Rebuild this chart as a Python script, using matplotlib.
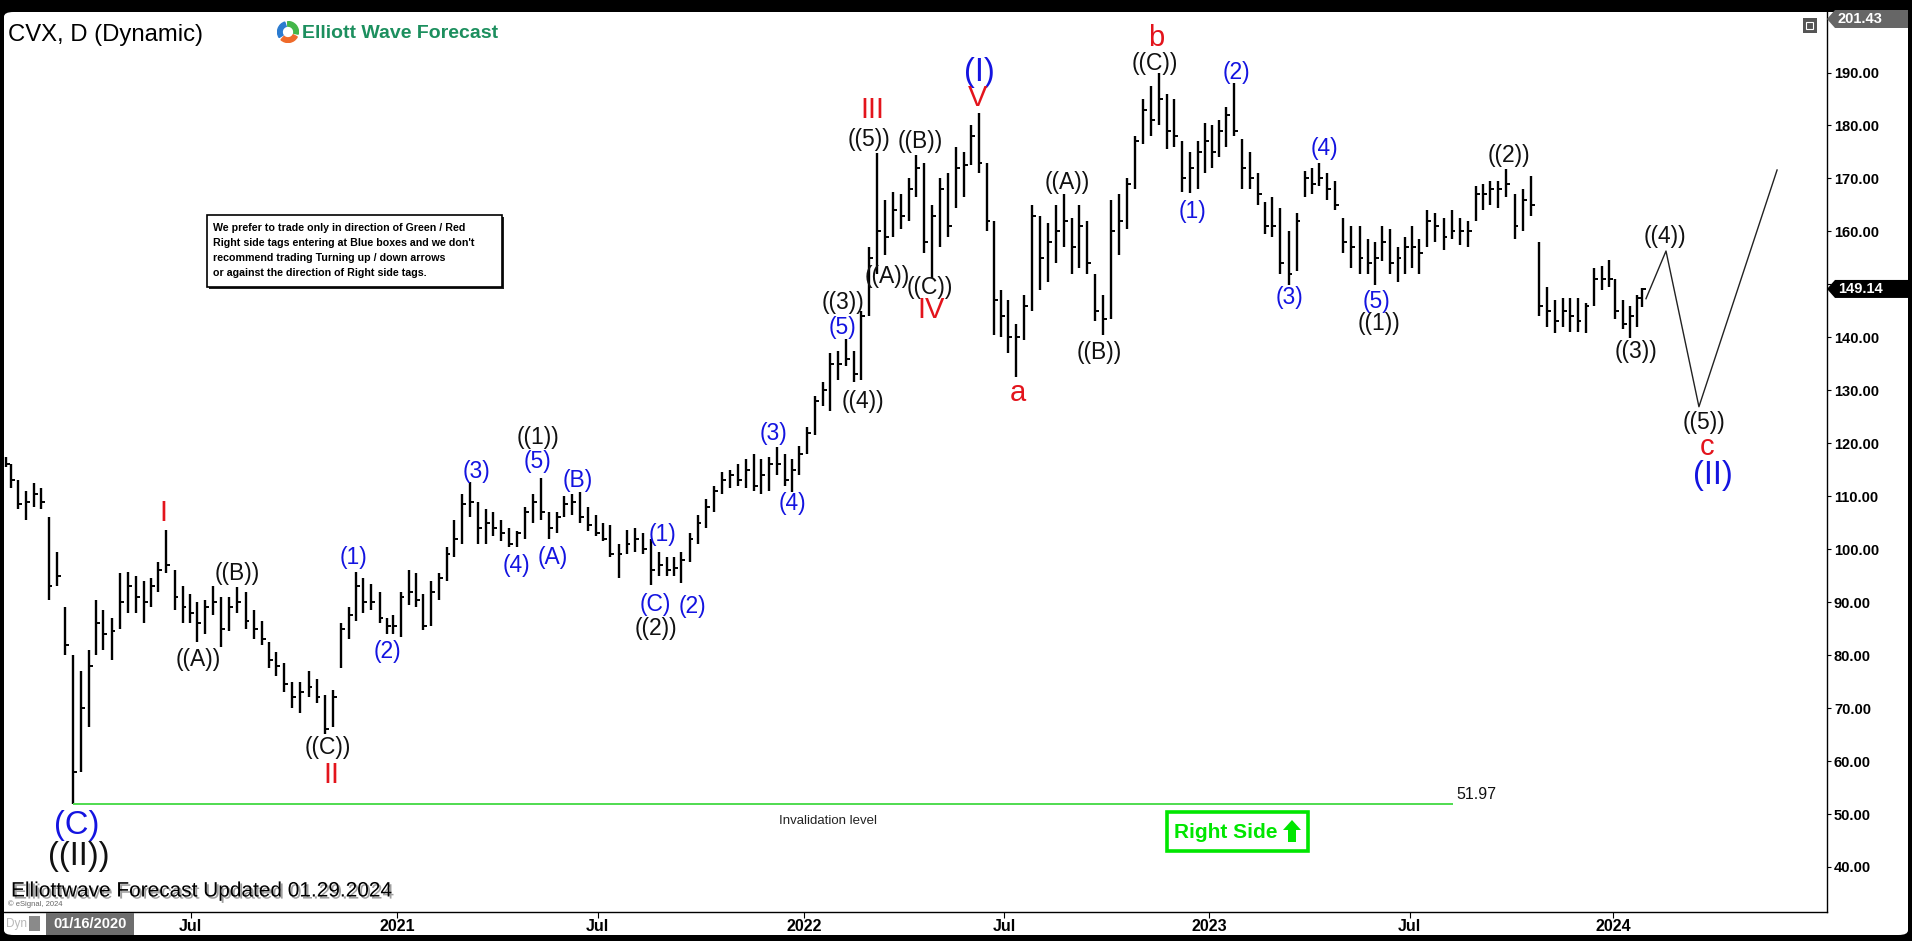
import numpy as np
import pandas as pd
import matplotlib
matplotlib.use('Agg')
import matplotlib.pyplot as plt
import matplotlib.patheffects as pe
from matplotlib.patches import Rectangle, Polygon, FancyBboxPatch, Wedge
from pandas.tseries.holiday import (AbstractHolidayCalendar, Holiday, GoodFriday,
                                    USMartinLutherKingJr, USPresidentsDay, USMemorialDay,
                                    USLaborDay, USThanksgivingDay, nearest_workday,
                                    sunday_to_monday)

W, H = 1912, 941

# CVX weekly bars (one value per week, 16 Jan 2020 .. 29 Jan 2024)
week_low = [
    115.5, 111.5, 107.5, 105.5, 108, 107.5, 90.4, 93, 80, 51.97,
    58, 66.5, 80, 81, 79, 85, 88, 88, 86, 89,
    92, 95.5, 88.5, 86, 86, 82.5, 84, 87.5, 81.5, 84.5,
    88, 85, 83, 82, 77.5, 76, 73, 70, 69, 72,
    71, 65.2, 66.5, 77.5, 83, 86.5, 88, 88.5, 86, 84,
    84, 83.4, 89.5, 89, 84.8, 85.5, 90.5, 94, 98.5, 101,
    106, 101, 101, 102.5, 101.5, 100.4, 100.4, 102, 105, 105.5,
    102, 103, 106, 106.5, 105, 103.5, 102.5, 101.5, 98.5, 94.6,
    99, 99.5, 99, 93.3, 95, 95, 95, 93.6, 97.5, 101,
    104, 107, 110.5, 111.5, 112, 111.5, 111, 110.5, 111, 114,
    112, 110.8, 114, 118, 121.5, 127, 126, 132, 134.5, 131.6,
    132, 144, 152, 155.5, 159, 160.5, 162, 166.5, 156, 151.2,
    157, 159, 164.5, 166.5, 172.5, 171, 160, 140.5, 140, 137,
    132.5, 139.5, 145, 149, 150.5, 154, 157, 152, 153, 152,
    143, 140.5, 143.5, 155.5, 160.5, 168, 176.5, 178, 180, 175.5,
    176, 167.5, 167.3, 168, 171, 172, 174, 176, 178, 168,
    168, 165, 159.5, 159, 152, 149.9, 152.5, 166.5, 167, 168.5,
    166, 164, 156, 153, 152, 152, 149.9, 154.5, 152, 150.5,
    152, 153, 152, 157, 158, 156.5, 158.5, 157.5, 157, 162,
    164, 165, 164.5, 166.5, 158.5, 160, 163, 144, 142, 140.8,
    142, 141, 141, 140.8, 146, 149, 149.5, 143.5, 141.5, 139.8,
    142, 145.8]
week_high = [
    117.5, 116, 113, 111, 112.5, 111.5, 106, 99.5, 89, 80,
    77, 81, 90.5, 88.5, 87, 95.5, 95.7, 95, 94, 94.5,
    97.5, 103.6, 96, 93, 91.5, 90, 90.5, 93, 91, 91,
    92.9, 92, 88.5, 86.5, 82.5, 80.5, 78.5, 75, 75, 77,
    75.5, 72.5, 73.5, 86, 89, 95.7, 94.5, 93.5, 92, 87,
    87.5, 92, 96, 95.5, 91.5, 94, 95.5, 100.5, 105.5, 110.5,
    112.7, 109, 107.5, 107, 105.5, 104, 103.5, 108, 110.5, 113.5,
    107, 107, 110, 110.5, 110.8, 108, 106.5, 105, 104.5, 101,
    103.6, 104, 103, 102, 99.5, 98.5, 98.5, 99.5, 103, 106.5,
    109.5, 112, 114.5, 115, 116, 117, 118, 117, 117.5, 119.3,
    118, 117, 119.5, 123, 129, 131.5, 137, 137.5, 139.6, 137.5,
    145, 157, 174.8, 166, 167.5, 167, 170, 174.5, 173, 165,
    170, 171, 176, 175, 180, 182.4, 173, 162, 149, 147,
    142.5, 148, 165, 163, 161.5, 165, 167, 162.5, 165, 162,
    152, 148, 166, 167, 170, 178, 185, 187.5, 189.9, 186,
    185, 177, 175, 177, 180.5, 180, 181, 183.5, 188, 177.5,
    175, 171, 165.5, 166.5, 164.5, 160, 163.5, 171.5, 172, 173,
    171, 169.5, 162.5, 161, 161, 158.5, 158, 161, 160.5, 157,
    159, 161, 158.5, 164, 163.5, 162.5, 164, 162.5, 162, 168.5,
    169, 169.5, 169.5, 171.8, 167, 168, 170.4, 158, 149.5, 147,
    147.5, 147.5, 147.5, 146.5, 153, 153.5, 154.6, 151, 147, 146,
    148, 149.3]
week_close = [
    116, 113, 108.5, 109, 110.5, 109, 93, 95, 82, 58,
    70, 78, 86, 84, 84.5, 90, 93, 91, 90, 93,
    96, 97, 91, 89, 88, 86, 89, 90, 85, 89,
    90, 86.5, 85, 83, 79, 78, 74.5, 72, 73, 74,
    72, 66, 72, 85, 87.5, 93, 90, 90, 87, 85.5,
    85.5, 91, 92, 90.5, 85.5, 92, 94.5, 99, 102, 108.5,
    109, 104, 105, 104, 103, 101, 103, 107, 109, 107,
    104, 106, 108.5, 109, 106, 104.5, 103, 102, 99, 99,
    101, 102, 100, 96, 97, 96, 96.5, 98, 102, 105,
    108, 111, 113, 114, 113, 115, 112, 114, 116, 116,
    113, 115, 118, 122, 128, 130, 135, 135, 136, 133,
    144, 155, 160, 159, 164, 163, 168, 172, 158, 163,
    168, 161, 172, 172.5, 178, 173, 162, 147, 144, 140,
    140, 146, 163, 155, 158, 160, 162, 157, 161, 154,
    145, 143.5, 160, 162, 169, 177, 183, 181, 185, 179,
    178, 170, 172, 175, 177, 175, 179, 182, 179, 172,
    170, 167, 161, 161, 154, 152, 162, 170, 169, 170,
    168, 165, 158, 157, 155, 154, 155, 158, 154, 155,
    157, 157, 156, 162, 161, 159, 160, 160, 160, 167,
    167, 168, 168, 169, 161, 166, 165, 146, 145, 143,
    145, 144, 143, 146, 151, 151, 151, 145, 142.5, 144,
    147.5, 149.14]

last_price = 149.14
top_price = 201.43
invalid_level = 51.97
invalid_end = '2023-08-10'
y_ticks = list(range(40, 200, 10))

# projected path after the last bar (bar index, price)
proj_x = [1016.4, 1028.8, 1049.2, 1097.6]
proj_y = [147.3, 156.3, 126.9, 171.6]

# wave labels: text, bar index, price, style
wave_labels = [
    ('I', 98, 106.9, 'red'), ('((A))', 120, 79.1, 'blk'), ('((B))', 144, 95.5, 'blk'),
    ('((C))', 200, 62.5, 'blk'), ('II', 202, 57.4, 'red'),
    ('(C)', 44.6, 47.9, 'BLU'), ('((II))', 45.8, 41.9, 'BLK'),
    ('(1)', 216, 98.4, 'blu'), ('(2)', 237, 80.6, 'blu'), ('(3)', 292, 114.6, 'blu'),
    ('(4)', 317, 97.0, 'blu'), ('(5)', 330, 116.5, 'blu'), ('((1))', 330, 121.0, 'blk'),
    ('(A)', 339, 98.5, 'blu'), ('(B)', 355, 112.9, 'blu'), ('(1)', 407, 102.7, 'blu'),
    ('(C)', 402.6, 89.5, 'blu'), ('(2)', 425.5, 89.1, 'blu'), ('((2))', 403.2, 85.1, 'blk'),
    ('(3)', 475.7, 121.8, 'blu'), ('(4)', 487.5, 108.6, 'blu'),
    ('((3))', 519, 146.5, 'blk'), ('(5)', 519, 141.8, 'blu'), ('((4))', 531.4, 127.8, 'blk'),
    ('III', 537, 183.0, 'red'), ('((5))', 535.1, 177.3, 'blk'), ('((B))', 566.7, 176.9, 'blk'),
    ('((A))', 546.3, 151.4, 'blk'), ('((C))', 572.9, 149.5, 'blk'), ('IV', 573.6, 145.2, 'red'),
    ('(I)', 603.3, 190.1, 'BLU'), ('V', 602.7, 185.2, 'red'), ('a', 627.4, 129.5, 'red'),
    ('((A))', 657.8, 169.2, 'blk'), ('((B))', 677.6, 137.1, 'blk'),
    ('b', 712.9, 196.6, 'red'), ('((C))', 712.3, 191.8, 'blk'),
    ('(1)', 735.8, 163.7, 'blu'), ('(2)', 762.5, 190.0, 'blu'), ('(3)', 795.3, 147.5, 'blu'),
    ('(4)', 817, 175.6, 'blu'), ('(5)', 849.2, 146.7, 'blu'), ('((1))', 851, 142.7, 'blk'),
    ('((2))', 931.6, 174.3, 'blk'), ('((3))', 1010.2, 137.3, 'blk'),
    ('((4))', 1028.2, 159.0, 'blk'), ('((5))', 1052.3, 123.9, 'blk'),
    ('c', 1054.2, 119.3, 'red'), ('(II)', 1057.9, 114.0, 'BLU'),
]

BLUE = '#1414e0'
RED = '#e3141c'
GREEN = '#00e600'
styles = {
    'blk': dict(color='#111111', fontsize=16.5),
    'blu': dict(color=BLUE, fontsize=16.5),
    'red': dict(color=RED, fontsize=21),
    'BLU': dict(color=BLUE, fontsize=23.5),
    'BLK': dict(color='#111111', fontsize=23.5),
}

plt.rcParams['font.family'] = ['Liberation Sans', 'DejaVu Sans']


class NyseCalendar(AbstractHolidayCalendar):
    rules = [
        Holiday('NewYear', month=1, day=1, observance=sunday_to_monday),
        USMartinLutherKingJr, USPresidentsDay, GoodFriday, USMemorialDay,
        Holiday('Juneteenth', month=6, day=19, start_date='2022-01-01', observance=nearest_workday),
        Holiday('July4', month=7, day=4, observance=nearest_workday),
        USLaborDay, USThanksgivingDay,
        Holiday('Christmas', month=12, day=25, observance=nearest_workday),
    ]


days = pd.date_range('2020-01-16', '2024-01-29',
                     freq=pd.offsets.CustomBusinessDay(calendar=NyseCalendar()))
bar_idx = pd.Series(np.arange(len(days)), index=days)
week_x = bar_idx.groupby(days.to_period('W-FRI')).mean().values
n = min(len(week_x), len(week_low))
week_x = week_x[:n]

# month ticks at first trading day of January / July
first = np.r_[True, days.month[1:] != days.month[:-1]]
tick_pos, tick_lbl = [], []
for i in np.where(first)[0]:
    if i > 0 and days[i].month in (1, 7):
        tick_pos.append(i)
        tick_lbl.append('Jul' if days[i].month == 7 else str(days[i].year))


def fx(px):
    return px / W


def fy(py):
    return 1 - py / H


fig = plt.figure(figsize=(W / 100, H / 100), dpi=100, facecolor='black')
panel = FancyBboxPatch((fx(4), fy(935)), 1904 / W, (935 - 12) / H,
                       boxstyle='round,pad=0,rounding_size=0.005',
                       transform=fig.transFigure, facecolor='white',
                       edgecolor='none', zorder=-5)
fig.patches.append(panel)

px_per_bar = 1.6145
ax = fig.add_axes([fx(4), fy(912), 1823 / W, 900 / H])
ax.set_facecolor('none')
x0 = -0.62
ax.set_xlim(x0, x0 + 1823 / px_per_bar)
ax.set_ylim(31.5, top_price)

# price bars
ax.vlines(week_x, week_low[:n], week_high[:n], color='black', linewidth=1.7)
ax.hlines(week_close[:n], week_x, week_x + 2.4, color='black', linewidth=1.4)

# invalidation line
end_i = bar_idx.index.searchsorted(pd.Timestamp(invalid_end))
ax.hlines(invalid_level, week_x[int(np.argmin(week_low))], end_i,
          color='#4fdc4f', linewidth=1.4)
ax.text(end_i + 2, invalid_level + 0.3, f'{invalid_level:.2f}', fontsize=11.5,
        color='#111111', ha='left', va='bottom')
ax.text(510, 48.7, 'Invalidation level', fontsize=9.5, color='#222222',
        ha='center', va='center')

# projection
ax.plot(proj_x, proj_y, color='#222222', linewidth=1.0)

for txt, xi, yi, st in wave_labels:
    ax.text(xi, yi, txt, ha='center', va='center', clip_on=False, **styles[st])

# axes styling
for s in ('left', 'top'):
    ax.spines[s].set_visible(False)
for s in ('right', 'bottom'):
    ax.spines[s].set_linewidth(1.0)
    ax.spines[s].set_color('black')
ax.yaxis.tick_right()
ax.set_yticks(y_ticks)
ax.set_yticklabels([f'{v:.2f}' for v in y_ticks], fontsize=10.5, fontweight='bold')
ax.tick_params(axis='y', length=3, width=0.8, pad=2, colors='black')
ax.set_xticks(tick_pos)
ax.set_xticklabels(tick_lbl, fontsize=11.5, fontweight='bold')
ax.tick_params(axis='x', length=4, width=0.8, pad=1, colors='black')

# header
fig.text(fx(8), fy(35), 'CVX, D (Dynamic)', fontsize=17.2, color='black',
         ha='left', va='center')
logo = fig.add_axes([fx(277), fy(43), 22 / W, 22 / H])
logo.set_xlim(-1, 1)
logo.set_ylim(-1, 1)
logo.axis('off')
for a1, a2, c in ((100, 220, '#2b7bd0'), (220, 340, '#ef6a2a'), (340, 460, '#43b649')):
    logo.add_patch(Wedge((0, 0), 0.95, a1 + 8, a2 - 8, width=0.42, color=c))
fig.text(fx(302), fy(33), 'Elliott Wave Forecast', fontsize=14, fontweight='bold',
         color='#1c8f5e', ha='left', va='center')

# note box
fig.patches.append(Rectangle((fx(209), fy(289)), 295 / W, 72 / H,
                             transform=fig.transFigure, facecolor='#222222',
                             edgecolor='none', zorder=2))
fig.patches.append(Rectangle((fx(207), fy(287)), 295 / W, 72 / H,
                             transform=fig.transFigure, facecolor='white',
                             edgecolor='black', linewidth=1.2, zorder=2))
note = ['We prefer to trade only in direction of Green / Red',
        "Right side tags entering at Blue boxes and we don't",
        'recommend trading Turning up / down arrows',
        'or against the direction of Right side tags.']
for k, line in enumerate(note):
    fig.text(fx(213), fy(228 + 15 * k), line, fontsize=7.7, fontweight='bold',
             color='black', ha='left', va='center', zorder=3)

# right side tag
fig.patches.append(Rectangle((fx(1167), fy(851)), 141 / W, 39 / H,
                             transform=fig.transFigure, facecolor='none',
                             edgecolor=GREEN, linewidth=2.6, zorder=2))
fig.text(fx(1174), fy(832), 'Right Side', fontsize=15, fontweight='bold',
         color=GREEN, ha='left', va='center')
# up arrow after the text
fig.patches.append(Polygon([(fx(1292), fy(820)), (fx(1301), fy(830)), (fx(1296), fy(830)),
                            (fx(1296), fy(842)), (fx(1288), fy(842)), (fx(1288), fy(830)),
                            (fx(1283), fy(830))], closed=True, transform=fig.transFigure,
                           facecolor=GREEN, edgecolor='none', zorder=3))

# footer
fig.text(fx(11), fy(891), 'Elliottwave Forecast Updated 01.29.2024', fontsize=15,
         color='black', ha='left', va='center',
         path_effects=[pe.withSimplePatchShadow(offset=(1.5, -1.5),
                                                shadow_rgbFace='#888888', alpha=0.8)])
fig.text(fx(8), fy(904), '\u00a9 eSignal, 2024', fontsize=5.5, color='#666666',
         ha='left', va='center')
fig.text(fx(6), fy(924), 'Dyn', fontsize=8.5, color='#b8b8b8', ha='left', va='center')
fig.patches.append(Rectangle((fx(29), fy(931)), 11 / W, 15 / H, transform=fig.transFigure,
                             facecolor='#8a8a8a', edgecolor='none', zorder=2))
fig.patches.append(Rectangle((fx(46), fy(935)), 88 / W, 22 / H, transform=fig.transFigure,
                             facecolor='#6e6e6e', edgecolor='none', zorder=2))
fig.text(fx(90), fy(924), days[0].strftime('%m/%d/%Y'), fontsize=10.5, fontweight='bold',
         color='white', ha='center', va='center', zorder=3)


# price tags on the right axis
def price_tag(py, label, face):
    pts = [(fx(1827), fy(py)), (fx(1835), fy(py - 9)), (fx(1908), fy(py - 9)),
           (fx(1908), fy(py + 9)), (fx(1835), fy(py + 9))]
    fig.patches.append(Polygon(pts, closed=True, transform=fig.transFigure,
                               facecolor=face, edgecolor='none', zorder=4))
    fig.text(fx(1838), fy(py), label, fontsize=10.5, fontweight='bold', color='white',
             ha='left', va='center', zorder=5)


def price_to_py(p):
    return 12 + (top_price - p) / (top_price - 31.5) * 900


price_tag(price_to_py(last_price), f'{last_price:.2f}', 'black')
price_tag(19, f'{top_price:.2f}', '#666666')

# little window icon top-right
fig.patches.append(Rectangle((fx(1803), fy(33)), 14 / W, 15 / H, transform=fig.transFigure,
                             facecolor='#555555', edgecolor='none', zorder=2))
fig.patches.append(Rectangle((fx(1806), fy(29)), 7 / W, 7 / H, transform=fig.transFigure,
                             facecolor='none', edgecolor='white', linewidth=0.8, zorder=3))

fig.savefig('out.png', dpi=100, facecolor=fig.get_facecolor())
